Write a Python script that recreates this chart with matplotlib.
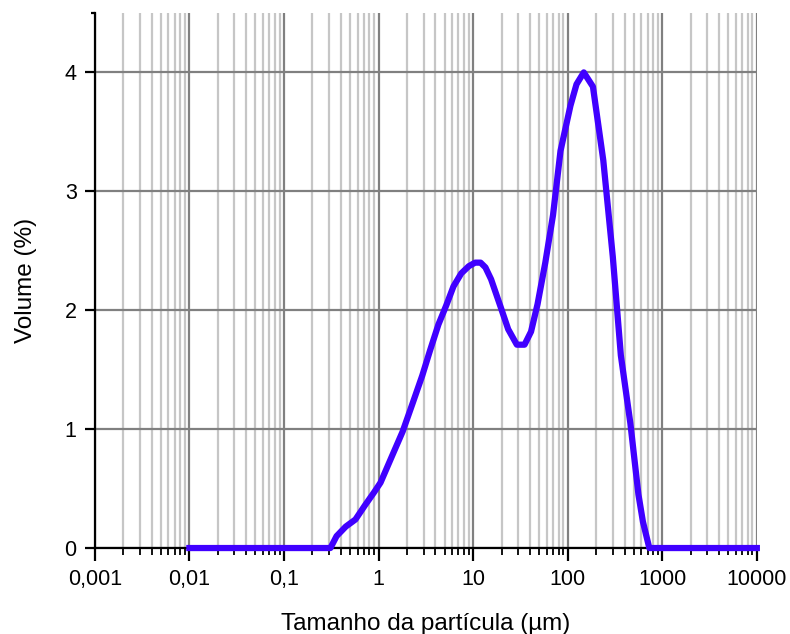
import matplotlib
matplotlib.use('Agg')
import matplotlib.pyplot as plt
from matplotlib.ticker import FixedLocator, FuncFormatter, LogLocator, NullFormatter

plt.rcParams['font.family'] = ['Liberation Sans', 'DejaVu Sans']

# particle size (um) and volume (%)
size_um = [0.01, 0.1, 0.31, 0.36, 0.45, 0.57, 0.72, 0.9, 1.05, 1.4, 1.8, 2.3,
           2.9, 3.5, 4.3, 5.2, 6.2, 7.5, 9.0, 10.5, 12.0, 13.5, 15.5, 19.5,
           23.5, 29.0, 35.0, 41.0, 48.0, 58.0, 70.0, 84.0, 107.0, 124.0,
           148.0, 185.0, 238.0, 300.0, 365.0, 460.0, 560.0, 625.0, 730.0,
           1000.0, 10000.0]
volume = [0.0, 0.0, 0.0, 0.10, 0.18, 0.24, 0.36, 0.47, 0.55, 0.78, 0.98, 1.22,
          1.45, 1.66, 1.88, 2.04, 2.20, 2.31, 2.37, 2.40, 2.40, 2.36, 2.26,
          2.03, 1.84, 1.71, 1.71, 1.82, 2.05, 2.40, 2.80, 3.34, 3.72, 3.90,
          4.0, 3.88, 3.26, 2.45, 1.62, 1.05, 0.45, 0.22, 0.0, 0.0,
          0.0]

xticks = [0.001, 0.01, 0.1, 1, 10, 100, 1000, 10000]
xlabels = ['0,001', '0,01', '0,1', '1', '10', '100', '1000', '10000']
yticks = [0, 1, 2, 3, 4]

fig = plt.figure(figsize=(7.9, 6.34), dpi=100)
ax = fig.add_axes([0.120, 0.1356, 0.838, 0.844])

ax.plot(size_um, volume, color='#4000ff', lw=4.5, solid_joinstyle='round',
        zorder=5, clip_on=False)

ax.set_xscale('log')
ax.set_xlim(0.001, 10000)
ax.set_ylim(0, 4.5)

ax.xaxis.set_major_locator(FixedLocator(xticks))
ax.xaxis.set_major_formatter(FuncFormatter(lambda v, p: xlabels[xticks.index(v)] if v in xticks else ''))
ax.xaxis.set_minor_locator(LogLocator(base=10, subs=range(2, 10), numticks=20))
ax.xaxis.set_minor_formatter(NullFormatter())
ax.yaxis.set_major_locator(FixedLocator(yticks))
ax.yaxis.set_minor_locator(FixedLocator([4.5]))

ax.grid(True, which='major', axis='both', color='#808080', lw=1.6)
ax.grid(True, which='minor', axis='x', color='#c6c6c6', lw=1.6)
ax.set_axisbelow(True)

for s in ['top', 'right']:
    ax.spines[s].set_visible(False)
ax.spines['left'].set_linewidth(1.6)
ax.spines['bottom'].set_linewidth(1.6)

ax.tick_params(axis='x', which='major', direction='out', length=9, width=1.6,
               labelsize=15.5, pad=6)
ax.tick_params(axis='x', which='minor', direction='out', length=5, width=1.3)
ax.tick_params(axis='y', which='major', direction='out', length=7, width=1.6,
               labelsize=15.5, pad=6)
ax.tick_params(axis='y', which='minor', direction='out', length=3, width=1.6)

ax.set_xlabel('Tamanho da partícula (µm)', fontsize=17.5, labelpad=17)
ax.set_ylabel('Volume (%)', fontsize=17.5, labelpad=20)

fig.savefig('out.png', dpi=100)
